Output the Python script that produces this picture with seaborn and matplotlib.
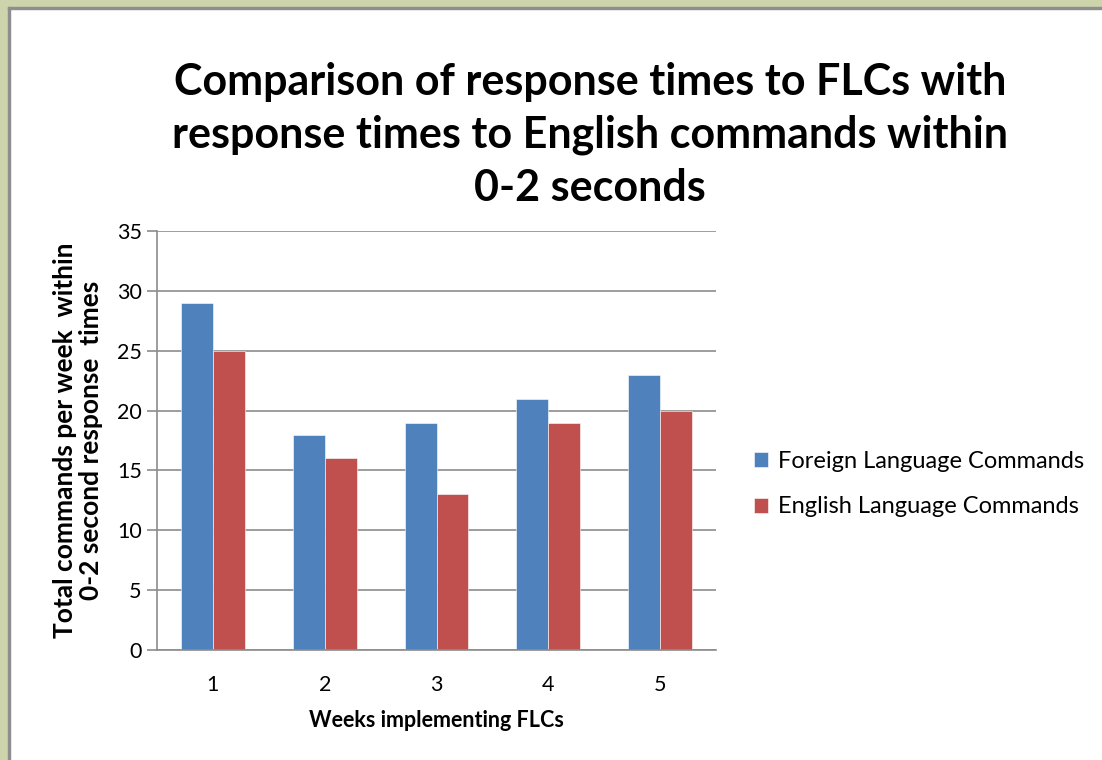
import seaborn as sns
import matplotlib.pyplot as plt
import pandas as pd
from matplotlib.patches import Rectangle

# data
weeks = ["1", "2", "3", "4", "5"]
foreign = [29, 18, 19, 21, 23]
english = [25, 16, 13, 19, 20]
series_names = ["Foreign Language Commands", "English Language Commands"]
colors = ["#4F81BD", "#C0504D"]

df = pd.DataFrame({
    "week": weeks * 2,
    "value": foreign + english,
    "series": [series_names[0]] * len(weeks) + [series_names[1]] * len(weeks),
})

sns.set_style("white")
plt.rcParams["font.family"] = ["Lato", "DejaVu Sans"]
plt.rcParams["text.color"] = "black"
plt.rcParams["axes.labelcolor"] = "black"
plt.rcParams["xtick.color"] = "black"
plt.rcParams["ytick.color"] = "black"

fig = plt.figure(figsize=(11.02, 7.6), dpi=100)
ax = fig.add_axes([157 / 1102, 1 - 650 / 760, (716 - 157) / 1102, (650 - 231) / 760])

sns.barplot(data=df, x="week", y="value", hue="series", hue_order=series_names,
            palette=colors, width=0.57, ax=ax, legend=True, saturation=1,
            edgecolor="white", linewidth=0.4)

ax.set_ylim(0, 35)
ax.set_yticks(range(0, 36, 5))
ax.set_xlim(-0.5, 4.5)
ax.yaxis.grid(True, color="#8C8C8C", linewidth=1.2)
ax.set_axisbelow(True)
for side in ["top", "right"]:
    ax.spines[side].set_visible(False)
for side in ["left", "bottom"]:
    ax.spines[side].set_color("#8C8C8C")
    ax.spines[side].set_linewidth(1.2)

ax.tick_params(axis="y", direction="out", length=7, color="#8C8C8C", width=1.2,
               labelsize=15.5, left=True, pad=4)
ax.set_xticks([-0.5, 0.5, 1.5, 2.5, 3.5, 4.5], minor=True)
ax.tick_params(axis="x", which="minor", direction="out", length=7, color="#8C8C8C", width=1.2)
ax.tick_params(axis="x", which="major", length=0, labelsize=15.5, pad=18)

ax.set_xlabel("Weeks implementing FLCs", fontsize=15.5, fontweight="bold", labelpad=11)
ax.set_ylabel("Total commands per week  within\n0-2 second response  times",
              fontsize=19, fontweight="bold", labelpad=10, linespacing=1.1)

fig.text(590 / 1102, 1 - 135 / 760,
         "Comparison of response times to FLCs with\nresponse times to English commands within\n0-2 seconds",
         ha="center", va="center", fontsize=31, fontweight="bold", linespacing=1.38)

handles, labels = ax.get_legend_handles_labels()
ax.get_legend().remove()
fig.legend(handles, labels, loc="center left", bbox_to_anchor=(733 / 1102, 1 - 484 / 760),
           frameon=False, fontsize=17, handlelength=0.6, handleheight=0.6,
           handletextpad=0.4, labelspacing=1.05)

# frame border at top and left
beige = "#CDD4AB"
fw, fh = 1102, 760
fig.patches.append(Rectangle((0, 0), 8 / fw, 1, transform=fig.transFigure, color=beige, zorder=0))
fig.patches.append(Rectangle((0, 1 - 7 / fh), 1, 7 / fh, transform=fig.transFigure, color=beige, zorder=0))
fig.patches.append(Rectangle((8 / fw, 0), 2 / fw, 1 - 7 / fh, transform=fig.transFigure, color="#8E8E8E", zorder=1))
fig.patches.append(Rectangle((8 / fw, 1 - 9 / fh), 1 - 8 / fw, 2 / fh, transform=fig.transFigure, color="#8E8E8E", zorder=1))

fig.savefig("out.png", dpi=100)
